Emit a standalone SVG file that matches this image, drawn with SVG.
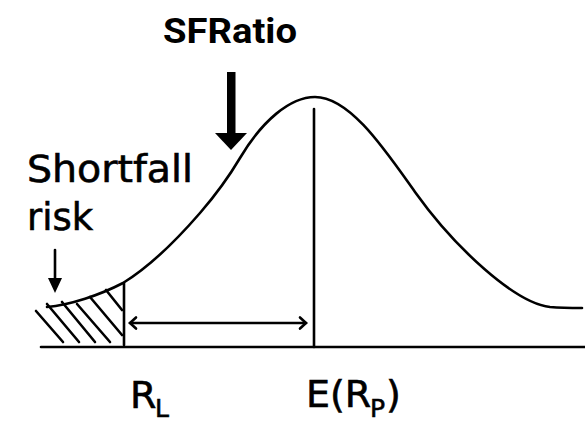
<svg xmlns="http://www.w3.org/2000/svg" width="585" height="424" viewBox="0 0 585 424">
<style>
.ln{stroke:#000;stroke-width:2.6;fill:none;stroke-linecap:round}
.hand{font-family:"DejaVu Sans","Noto Sans",sans-serif;fill:#000;stroke:#000;stroke-width:0.6}
.bold{font-family:Roboto,"Liberation Sans",sans-serif;font-weight:bold;fill:#000}
</style>
<rect width="585" height="424" fill="#fff"/>
<g id="axis">
<line class="ln" x1="41" y1="347" x2="585" y2="347" stroke-width="3"/>
</g>
<g id="curve">
<path class="ln" d="M47,307 C70,305 100,295 123,283 C149,267 174,243 200,213 C213,198 227,180 240,158 C262,121 290,97 315,97 C350,97 385,150 415,192 C455,248 515,303 550,307 C562,308 572,308 582,308"/>
</g>
<g id="shortfall-area">
<line class="ln" x1="36" y1="311" x2="63" y2="342"/>
<line class="ln" x1="47" y1="304" x2="79" y2="342"/>
<line class="ln" x1="62" y1="302" x2="95" y2="342"/>
<line class="ln" x1="77" y1="304" x2="110" y2="342"/>
<line class="ln" x1="90" y1="297" x2="122" y2="335"/>
<line class="ln" x1="106" y1="290" x2="122" y2="310"/>
<line class="ln" x1="124" y1="283" x2="124" y2="345"/>
</g>
<g id="mean-line">
<line class="ln" x1="314" y1="109" x2="314" y2="347"/>
</g>
<g id="connectors">
<g id="distance-arrow">
<line class="ln" x1="130" y1="323" x2="306" y2="323"/>
<polyline class="ln" points="136,317.5 130,323 136,328.5"/>
<polyline class="ln" points="300,317.5 306,323 300,328.5"/>
</g>
<g id="shortfall-arrow">
<line class="ln" x1="55" y1="250" x2="55" y2="280" stroke-width="2"/>
<polygon points="48,278 62,278 55,293" fill="#000"/>
</g>
<g id="sfratio-arrow">
<rect x="227" y="72" width="8.5" height="62" fill="#000"/>
<polygon points="215,133 247,133 231,150" fill="#000"/>
</g>
</g>
<g id="sfratio-label">
<text class="bold" x="163" y="43" font-size="35" textLength="134" lengthAdjust="spacingAndGlyphs">SFRatio</text>
</g>
<g id="shortfall-label">
<text class="hand" x="27" y="182" font-size="37" textLength="166" lengthAdjust="spacingAndGlyphs">Shortfall</text>
<text class="hand" x="27" y="230" font-size="37" textLength="66" lengthAdjust="spacingAndGlyphs">risk</text>
</g>
<g id="rl-label">
<text class="hand" x="130" y="408" font-size="38">R</text>
<text class="hand" x="155" y="417" font-size="25">L</text>
</g>
<g id="erp-label">
<text class="hand" x="306" y="407" font-size="38">E(R</text>
<text class="hand" x="370" y="417" font-size="25">P</text>
<text class="hand" x="386" y="407" font-size="38">)</text>
</g>
</svg>
